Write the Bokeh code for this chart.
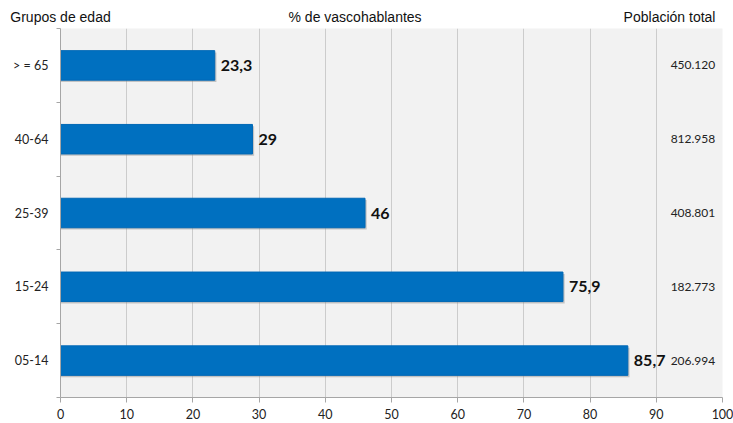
from bokeh.plotting import figure
from bokeh.models import ColumnDataSource, FixedTicker, Range1d, LinearAxis
from bokeh.core.properties import value
from bokeh.embed import file_html
from bokeh.resources import INLINE

groups = ["05-14", "15-24", "25-39", "40-64", "> = 65"]
pct = [85.7, 75.9, 46, 29, 23.3]
pct_labels = ["85,7", "75,9", "46", "29", "23,3"]
population = ["206.994", "182.773", "408.801", "812.958", "450.120"]
x_ticks = [0, 10, 20, 30, 40, 50, 60, 70, 80, 90, 100]
headers = ["Grupos de edad", "% de vascohablantes", "Población total"]

idx = list(range(len(groups)))
src = ColumnDataSource(dict(y=idx, pct=pct, lab=pct_labels, pop=population,
                            popx=[98.9] * len(idx),
                            ys=[i - 0.025 for i in idx],
                            shadow=[v + 0.25 for v in pct]))

p = figure(width=733, height=423, output_backend="svg", toolbar_location=None,
           x_range=Range1d(0, 100), y_range=Range1d(-0.5, len(groups) - 0.5),
           min_border_left=60, min_border_right=11, min_border_top=28, min_border_bottom=26)
p.background_fill_color = "#f2f2f2"
p.border_fill_color = "white"
p.outline_line_color = None

p.xgrid.ticker = FixedTicker(ticks=x_ticks)
p.xgrid.grid_line_color = "#cccccc"
p.ygrid.grid_line_color = None

# soft shadow under the bars
p.hbar(y="ys", left=0, right="shadow", height=0.4, source=src,
       fill_color="#8a8a8a", fill_alpha=0.45, line_color=None)
p.hbar(y="y", left=0, right="pct", height=0.4, source=src,
       fill_color="#0070c0", line_color="#0068b5", line_width=1)

p.text(x="pct", y="y", text="lab", source=src, x_offset=6,
       text_font=value("Lato"), text_font_style="bold", text_font_size="16px",
       text_baseline="middle", text_align="left", text_color="#111111")
p.text(x="popx", y="y", text="pop", source=src,
       text_font=value("Lato"), text_font_size="12px",
       text_baseline="middle", text_align="right", text_color="#222222")

p.xaxis.ticker = FixedTicker(ticks=x_ticks)
p.xaxis.axis_line_color = "#a6a6a6"
p.xaxis.major_tick_line_color = "#a6a6a6"
p.xaxis.major_tick_out = 5
p.xaxis.major_tick_in = 0
p.xaxis.minor_tick_line_color = None
p.xaxis.major_label_text_font = "Lato"
p.xaxis.major_label_text_font_size = "12.5px"
p.xaxis.major_label_text_color = "#222222"
p.xaxis.major_label_standoff = 6

p.yaxis.ticker = FixedTicker(ticks=idx, minor_ticks=[i - 0.5 for i in range(len(groups) + 1)])
p.yaxis.major_label_overrides = {i: g for i, g in enumerate(groups)}
p.yaxis.axis_line_color = "#a6a6a6"
p.yaxis.major_tick_line_color = None
p.yaxis.major_tick_out = 4
p.yaxis.major_tick_in = 0
p.yaxis.minor_tick_line_color = "#a6a6a6"
p.yaxis.minor_tick_out = 4
p.yaxis.minor_tick_in = 0
p.yaxis.major_label_text_font = "Lato"
p.yaxis.major_label_text_font_size = "12.5px"
p.yaxis.major_label_text_color = "#222222"
p.yaxis.major_label_standoff = 8

# header texts as labels of an undecorated axis above the plot area
header_pos = [0, 44.5, 92]
p.extra_x_ranges = {"hdr": Range1d(0, 100)}
hdr = LinearAxis(x_range_name="hdr", ticker=FixedTicker(ticks=header_pos, minor_ticks=[]),
                 major_label_overrides={pos: t for pos, t in zip(header_pos, headers)})
hdr.axis_line_color = None
hdr.major_tick_line_color = None
hdr.minor_tick_line_color = None
hdr.major_tick_out = 0
hdr.major_tick_in = 0
hdr.major_label_standoff = 4
hdr.major_label_text_font = "Liberation Sans"
hdr.major_label_text_font_size = "14px"
hdr.major_label_text_color = "#111111"
p.add_layout(hdr, "above")

open("out.html", "w").write(file_html(p, INLINE))
